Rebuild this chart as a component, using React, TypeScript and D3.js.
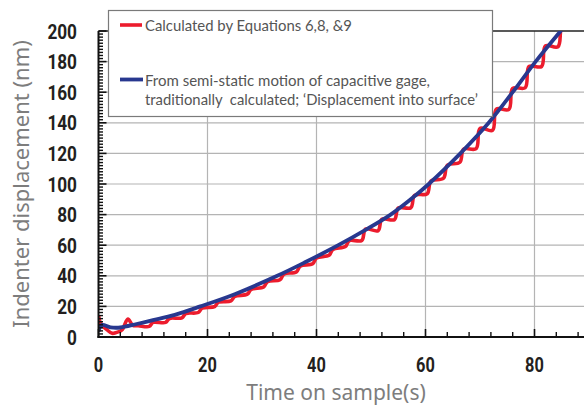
import React from "react";
import * as d3 from "d3";

// blue: semi-static capacitive gage, [time s, displacement nm]
const gageSeries: [number, number][] = [
  [0, 3.5], [0.6, 7.8], [2.2, 6.3], [4, 6.2], [7, 8.5], [10, 11], [14, 14.5],
  [18.7, 20], [25, 28], [32.8, 40], [38, 49], [44, 60], [49, 70], [53.6, 80],
  [57.3, 90], [60.6, 100], [66.4, 120], [71.6, 140], [76, 160], [80.2, 180],
  [84.8, 200], [86, 205],
];

// red: calculated by equations 6, 8 & 9
const calcSeries: [number, number][] = [
  [0, 14], [0.4, 9], [1.6, 4.6], [2.5, 2.4], [3.3, 3], [4.3, 4.6], [5.4, 11.7], [6.3, 7.6],
  [7.3, 7.4], [9.3, 6.9],
  [10, 9.5], [12.3, 9.5],
  [13, 12.1], [15.3, 12.5],
  [16, 15.3], [18.3, 16],
  [19, 18.9], [21.3, 19.8],
  [22, 22.7], [24.3, 23.6],
  [25, 26.5], [27.3, 28],
  [28, 31.1], [30.3, 32.7],
  [31, 36.2], [33.3, 37.4],
  [34, 41.1], [36.3, 42.5],
  [37, 46.3], [39.3, 47.9],
  [40, 51.7], [42.3, 53.4],
  [43, 57.2], [45.3, 59.1],
  [46, 63], [48.3, 63.1],
  [49, 70.5], [51.3, 69.5],
  [52, 77], [54.3, 76.7],
  [55, 84.3], [57.3, 84.5],
  [58, 92.6], [60.3, 93.6],
  [61, 101.9], [63.3, 103.8],
  [64, 112.2], [66.3, 114.2],
  [67, 122.8], [69.3, 123.1],
  [70, 136.3], [72.3, 135.1],
  [73, 148.9], [75.3, 148.8],
  [76, 162.5], [78.3, 162.9],
  [79, 176.8], [81.3, 176.8],
  [82, 190.3], [84.3, 189.7],
  [85, 203.3], [86.5, 208],
];

const xTicks = [0, 20, 40, 60, 80];
const yTicks = [0, 20, 40, 60, 80, 100, 120, 140, 160, 180, 200];
const legendLabels = [
  ["Calculated by Equations 6,8, &9"],
  ["From semi-static motion of capacitive gage,", "traditionally  calculated; \u2018Displacement into surface\u2019"],
];
// measured text widths in the reference legend
const legendWidths = [[207], [285, 333]];

const W = 584;
const H = 406;
const left = 98.5;
const top = 31;
const bottom = 337;

const RED = "#ec1c2d";
const BLUE = "#28388f";
const numFont = "Roboto, 'Liberation Sans', sans-serif";
const textFont = "'Noto Sans', 'Open Sans', sans-serif";
const legendFont = "Lato, 'Noto Sans', sans-serif";

export default function App() {
  const x = d3.scaleLinear().domain([0, 90]).range([left, left + 90 * 5.45]);
  const y = d3.scaleLinear().domain([0, 200]).range([bottom, top]);

  const line = d3
    .line<[number, number]>()
    .x((d) => x(d[0]))
    .y((d) => y(d[1]))
    .curve(d3.curveCatmullRom.alpha(0.5));

  const xMinor = d3.range(0, 92, 4).filter((t) => t % 20 !== 0);
  const yMinor = d3.range(0, 200, 2).filter((v) => v % 20 !== 0);

  return (
    <svg
      width={W}
      height={H}
      style={{ position: "absolute", left: 0, top: 0, background: "white" }}
    >
      <defs>
        <clipPath id="plot">
          <rect x={left} y={top} width={W - left} height={bottom - top} />
        </clipPath>
      </defs>

      {/* grid */}
      {yTicks.slice(1, -1).map((v) => (
        <line key={"gy" + v} x1={left} x2={W} y1={y(v)} y2={y(v)} stroke="#b4b4b4" strokeWidth={1.2} />
      ))}
      {xTicks.slice(1).map((t) => (
        <line key={"gx" + t} x1={x(t)} x2={x(t)} y1={top} y2={bottom} stroke="#b4b4b4" strokeWidth={1.2} />
      ))}
      <line x1={left} x2={W} y1={top} y2={top} stroke="#222" strokeWidth={1.3} />

      {/* series */}
      <g clipPath="url(#plot)">
        <path d={line(calcSeries) ?? ""} fill="none" stroke={RED} strokeWidth={3.6} strokeLinejoin="round" />
        <path d={line(gageSeries) ?? ""} fill="none" stroke={BLUE} strokeWidth={3.8} strokeLinejoin="round" />
      </g>

      {/* axes */}
      <line x1={left} x2={left} y1={top} y2={bottom + 1} stroke="#111" strokeWidth={2} />
      <line x1={left - 1} x2={W} y1={bottom} y2={bottom} stroke="#111" strokeWidth={2} />
      {yMinor.map((v) => (
        <line key={"ym" + v} x1={left} x2={left + 4.5} y1={y(v)} y2={y(v)} stroke="#111" strokeWidth={1.4} />
      ))}
      {yTicks.map((v) => (
        <line key={"yM" + v} x1={left} x2={left + 8} y1={y(v)} y2={y(v)} stroke="#111" strokeWidth={1.6} />
      ))}
      {xMinor.map((t) => (
        <line key={"xm" + t} x1={x(t)} x2={x(t)} y1={bottom} y2={bottom - 5} stroke="#111" strokeWidth={1.4} />
      ))}
      {xTicks.map((t) => (
        <line key={"xM" + t} x1={x(t)} x2={x(t)} y1={bottom} y2={bottom - 8} stroke="#111" strokeWidth={1.6} />
      ))}

      {yTicks.map((v) => (
        <text
          key={"yl" + v}
          transform={`translate(77, ${y(v)}) scale(0.82, 1)`}
          dy="0.36em"
          textAnchor="end"
          fontFamily={numFont}
          fontWeight="bold"
          fontSize={21}
          fill="#231f20"
        >
          {v}
        </text>
      ))}
      {xTicks.map((t) => (
        <text
          key={"xl" + t}
          transform={`translate(${x(t)}, 372) scale(0.82, 1)`}
          textAnchor="middle"
          fontFamily={numFont}
          fontWeight="bold"
          fontSize={20}
          fill="#231f20"
        >
          {t}
        </text>
      ))}

      <text
        transform={`translate(29, 184) rotate(-90)`}
        textAnchor="middle"
        fontFamily={textFont}
        fontSize={22}
        fill="#7d7d7d"
      >
        Indenter displacement (nm)
      </text>
      <text x={336} y={400} textAnchor="middle" fontFamily={textFont} fontSize={21} fill="#7d7d7d">
        Time on sample(s)
      </text>

      {/* legend */}
      <rect x={108.5} y={10.5} width={384} height={106} fill="white" stroke="#7a7a7a" strokeWidth={1.2} />
      <line x1={120} x2={142} y1={25} y2={25} stroke={RED} strokeWidth={3.6} />
      <line x1={120} x2={143} y1={79.5} y2={79.5} stroke={BLUE} strokeWidth={3.8} />
      <text
        x={145}
        y={31}
        fontFamily={legendFont}
        fontSize={15}
        fill="#555"
        textLength={legendWidths[0][0]}
        lengthAdjust="spacingAndGlyphs"
      >
        {legendLabels[0][0]}
      </text>
      {legendLabels[1].map((s, i) => (
        <text
          key={s}
          x={145}
          y={86 + i * 18.5}
          fontFamily={legendFont}
          fontSize={15}
          fill="#555"
          textLength={legendWidths[1][i]}
          lengthAdjust="spacingAndGlyphs"
          style={{ whiteSpace: "pre" }}
        >
          {s}
        </text>
      ))}
    </svg>
  );
}
